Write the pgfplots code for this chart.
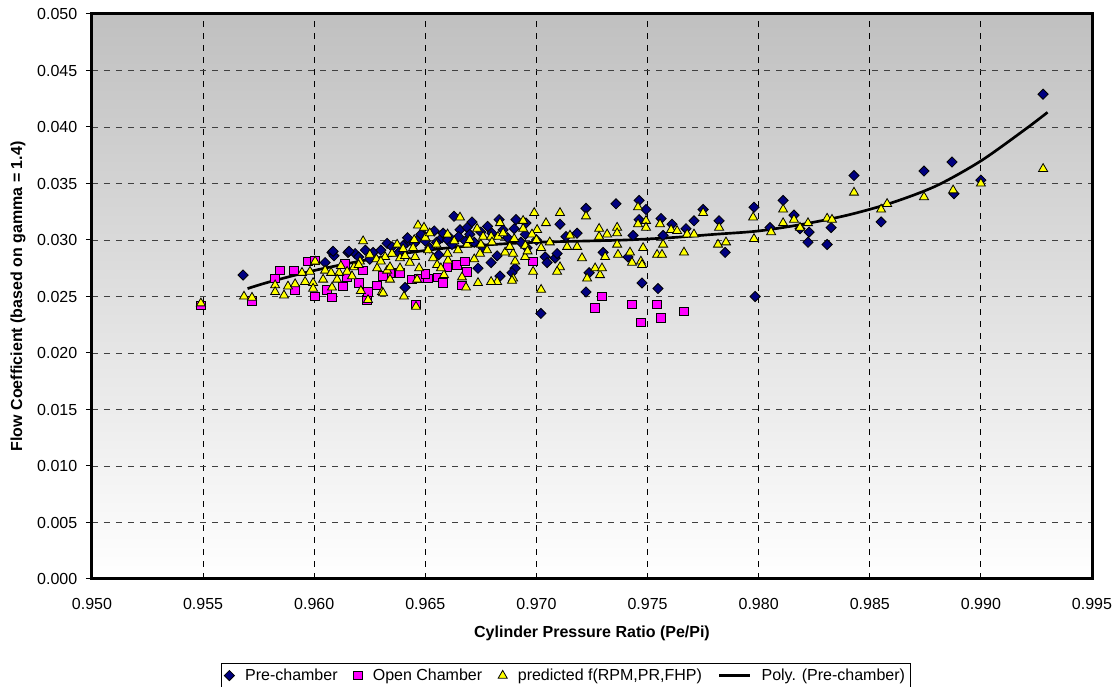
\documentclass[border=0pt]{standalone}
\usepackage{fontspec}
\setmainfont{Liberation Sans}
\usepackage{pgfplots}
\pgfplotsset{compat=1.18}

\definecolor{navy}{RGB}{0,0,128}
\definecolor{magen}{RGB}{255,0,255}
\definecolor{yell}{RGB}{255,255,0}
\definecolor{bgtop}{RGB}{192,192,192}

\begin{document}
\begin{tikzpicture}
\begin{axis}[
    name=ax,
    scale only axis,
    width=750pt, height=423.75pt,
    xmin=0.950, xmax=0.995, ymin=0, ymax=0.050,
    xtick={0.950,0.955,0.960,0.965,0.970,0.975,0.980,0.985,0.990,0.995},
    ytick={0,0.005,0.010,0.015,0.020,0.025,0.030,0.035,0.040,0.045,0.050},
    scaled ticks=false,
    /pgf/number format/assume math mode=true,
    xticklabel style={/pgf/number format/.cd,fixed,fixed zerofill,precision=3,/tikz/.cd,yshift=-11pt},
    yticklabel style={/pgf/number format/.cd,fixed,fixed zerofill,precision=3,/tikz/.cd,xshift=-3pt},
    tick label style={font=\fontsize{12}{14}\selectfont},
    xtick pos=left, ytick pos=left,
    xtick align=inside, ytick align=outside,
    major tick length=4.5pt,
    tick style={black, line width=0.75pt},
    axis line style={line width=2.25pt},
    grid=major,
    x grid style={black, line width=0.6pt, dash pattern=on 4.5pt off 4.5pt},
    y grid style={black!75, line width=0.6pt, dash pattern=on 4.5pt off 4.5pt},
    axis background/.style={top color=bgtop, bottom color=white},
    xlabel={Cylinder Pressure Ratio (Pe/Pi)},
    ylabel={Flow Coefficient (based on gamma = 1.4)},
    label style={font=\bfseries\fontsize{12}{14}\selectfont},
    xlabel style={at={(axis description cs:0.5,-0.097)}, anchor=center},
    ylabel style={at={(axis description cs:-0.074,0.5)}, anchor=center},
    legend style={at={(axis description cs:0.474,-0.149)}, anchor=north,
        draw=black, font=\fontsize{12}{14}\selectfont,
        column sep=6pt, inner sep=2pt,
        /tikz/every even column/.append style={column sep=10pt}},
    legend columns=4,
]

% Pre-chamber
\addplot[only marks, mark=square*, mark size=2.7pt,
    mark options={rotate=45, fill=navy, draw=black, line width=0.6pt}] coordinates {
(0.95680,0.0269) (0.96080,0.0289) (0.96089,0.0286) (0.96152,0.0289)
(0.96049,0.0280) (0.96184,0.0288) (0.96265,0.0289) (0.96328,0.0297)
(0.96085,0.0290) (0.96157,0.0290) (0.96409,0.0258) (0.96629,0.0321)
(0.96710,0.0316) (0.96656,0.0309) (0.96688,0.0311) (0.96832,0.0318)
(0.96908,0.0318) (0.96953,0.0315) (0.96494,0.0304) (0.96463,0.0300)
(0.96418,0.0298) (0.96575,0.0302) (0.96611,0.0302) (0.96823,0.0286)
(0.96737,0.0275) (0.96796,0.0280) (0.96836,0.0268) (0.96904,0.0275)
(0.96890,0.0271) (0.96958,0.0293) (0.97039,0.0285) (0.97048,0.0280)
(0.97084,0.0284) (0.97020,0.0235) (0.97106,0.0314) (0.97223,0.0328)
(0.97358,0.0332) (0.97462,0.0335) (0.97493,0.0327) (0.97462,0.0318)
(0.97561,0.0319) (0.97709,0.0317) (0.97750,0.0327) (0.97822,0.0317)
(0.97849,0.0289) (0.97475,0.0262) (0.97547,0.0257) (0.97223,0.0254)
(0.97435,0.0304) (0.97570,0.0304) (0.97610,0.0314) (0.97673,0.0310)
(0.97300,0.0289) (0.97183,0.0306) (0.97133,0.0303) (0.97093,0.0288)
(0.97412,0.0285) (0.97237,0.0271) (0.97979,0.0329) (0.97984,0.0250)
(0.98051,0.0311) (0.98110,0.0335) (0.98159,0.0322) (0.98186,0.0310)
(0.98222,0.0298) (0.98227,0.0307) (0.98308,0.0296) (0.98326,0.0311)
(0.98429,0.0357) (0.98551,0.0316) (0.98744,0.0361) (0.98870,0.0369)
(0.98879,0.0341) (0.99000,0.0353) (0.99280,0.0429)
(0.96200,0.0285) (0.96250,0.0283) (0.96300,0.0291) (0.96350,0.0294)
(0.96400,0.0295) (0.96450,0.0297) (0.96500,0.0299) (0.96550,0.0298)
(0.96600,0.0300) (0.96650,0.0303) (0.96700,0.0305) (0.96750,0.0307)
(0.96800,0.0306) (0.96850,0.0309) (0.96900,0.0310) (0.96950,0.0305)
(0.97000,0.0300) (0.96520,0.0293) (0.96380,0.0289) (0.96720,0.0298)
(0.96480,0.0305) (0.96540,0.0308) (0.96780,0.0312) (0.96620,0.0296)
(0.96230,0.0291) (0.96420,0.0302) (0.96580,0.0306) (0.96680,0.0299)
(0.96870,0.0302) (0.96930,0.0298) (0.96760,0.0293) (0.96560,0.0287)
};
\addlegendentry{Pre-chamber}

% Open Chamber
\addplot[only marks, mark=square*, mark size=3.2pt,
    mark options={fill=magen, draw=black, line width=0.6pt}] coordinates {
(0.95490,0.0242) (0.95720,0.0246) (0.95846,0.0273) (0.95824,0.0266)
(0.95909,0.0273) (0.95914,0.0256) (0.95972,0.0281) (0.96004,0.0282)
(0.96004,0.0250) (0.96058,0.0256) (0.96080,0.0249) (0.96130,0.0259)
(0.96139,0.0279) (0.96148,0.0267) (0.96220,0.0273) (0.96238,0.0247)
(0.96242,0.0254) (0.96283,0.0260) (0.96341,0.0271) (0.96386,0.0271)
(0.96440,0.0265) (0.96458,0.0243) (0.96472,0.0266) (0.96512,0.0266)
(0.96557,0.0267) (0.96580,0.0262) (0.96643,0.0278) (0.96665,0.0260)
(0.96679,0.0281) (0.96688,0.0272) (0.96985,0.0281) (0.97264,0.0240)
(0.97295,0.0250) (0.97430,0.0243) (0.97470,0.0227) (0.97543,0.0243)
(0.97561,0.0231) (0.97664,0.0237)
(0.96310,0.0268) (0.96200,0.0262) (0.96500,0.0270) (0.96600,0.0276)
};
\addlegendentry{Open Chamber}

% predicted
\addplot[only marks, mark=triangle*, mark size=3.9pt,
    mark options={fill=yell, draw=black, line width=0.6pt}] coordinates {
(0.95490,0.0244) (0.95684,0.0250) (0.95720,0.0249) (0.95824,0.0260)
(0.95824,0.0254) (0.95864,0.0251) (0.95882,0.0259) (0.95914,0.0261)
(0.95959,0.0263) (0.95945,0.0271) (0.95981,0.0272) (0.95995,0.0262)
(0.95995,0.0257) (0.96004,0.0281) (0.96049,0.0273) (0.96076,0.0271)
(0.96080,0.0258) (0.96112,0.0271) (0.96148,0.0272) (0.96179,0.0276)
(0.96206,0.0281) (0.96210,0.0255) (0.96242,0.0247) (0.96220,0.0299)
(0.96283,0.0275) (0.96305,0.0254) (0.96328,0.0273) (0.96341,0.0265)
(0.96170,0.0268) (0.96103,0.0265) (0.96040,0.0265) (0.96373,0.0296)
(0.96467,0.0313) (0.96494,0.0311) (0.96656,0.0320) (0.96733,0.0310)
(0.96836,0.0315) (0.96990,0.0324) (0.96940,0.0317) (0.96940,0.0310)
(0.97043,0.0315) (0.97003,0.0309) (0.97021,0.0293) (0.96760,0.0303)
(0.96796,0.0303) (0.96827,0.0303) (0.96445,0.0293) (0.96512,0.0291)
(0.96688,0.0296) (0.96647,0.0291) (0.96746,0.0288) (0.96778,0.0291)
(0.96895,0.0288) (0.96859,0.0289) (0.96904,0.0281) (0.96949,0.0285)
(0.96985,0.0272) (0.97021,0.0256) (0.96895,0.0266) (0.96890,0.0264)
(0.96823,0.0263) (0.96796,0.0263) (0.96737,0.0262) (0.96683,0.0258)
(0.96665,0.0267) (0.96584,0.0269) (0.96535,0.0284) (0.96553,0.0278)
(0.96602,0.0282) (0.96386,0.0284) (0.96409,0.0286) (0.96454,0.0285)
(0.96319,0.0285) (0.96341,0.0276) (0.96386,0.0275) (0.96472,0.0275)
(0.96463,0.0265) (0.96310,0.0253) (0.96404,0.0250) (0.96458,0.0241)
(0.97106,0.0324) (0.97223,0.0321) (0.97282,0.0310) (0.97282,0.0303)
(0.97318,0.0305) (0.97363,0.0311) (0.97363,0.0306) (0.97363,0.0296)
(0.97367,0.0287) (0.97457,0.0329) (0.97457,0.0314) (0.97493,0.0317)
(0.97493,0.0311) (0.97480,0.0293) (0.97421,0.0289) (0.97430,0.0280)
(0.97470,0.0281) (0.97475,0.0278) (0.97543,0.0287) (0.97565,0.0287)
(0.97556,0.0314) (0.97570,0.0296) (0.97606,0.0309) (0.97633,0.0308)
(0.97678,0.0305) (0.97709,0.0305) (0.97750,0.0324) (0.97664,0.0289)
(0.97822,0.0311) (0.97817,0.0296) (0.97853,0.0298) (0.97151,0.0304)
(0.97138,0.0294) (0.97183,0.0294) (0.97205,0.0284) (0.97228,0.0266)
(0.97264,0.0275) (0.97286,0.0269) (0.97295,0.0275) (0.97309,0.0285)
(0.97106,0.0276) (0.97093,0.0272) (0.97975,0.0320) (0.97979,0.0301)
(0.98056,0.0307) (0.98110,0.0327) (0.98110,0.0315) (0.98159,0.0318)
(0.98186,0.0311) (0.98222,0.0315) (0.98308,0.0319) (0.98330,0.0318)
(0.98429,0.0342) (0.98551,0.0327) (0.98578,0.0332) (0.98744,0.0338)
(0.98875,0.0344) (0.99000,0.0350) (0.99280,0.0363)
(0.96280,0.0283) (0.96400,0.0292) (0.96550,0.0296) (0.96600,0.0305)
(0.96630,0.0299) (0.96700,0.0300) (0.96750,0.0296) (0.96800,0.0298)
(0.96850,0.0306) (0.96900,0.0301) (0.96950,0.0295) (0.96980,0.0305)
(0.97000,0.0300) (0.96600,0.0288) (0.96500,0.0302) (0.96450,0.0300)
(0.96350,0.0288) (0.96300,0.0281) (0.96200,0.0278) (0.96120,0.0277)
(0.96250,0.0287) (0.96430,0.0280) (0.96570,0.0275) (0.96720,0.0283)
(0.96880,0.0294) (0.96960,0.0290) (0.97060,0.0298) (0.96520,0.0306)
};
\addlegendentry{predicted f(RPM,PR,FHP)}

% polynomial trend line of the pre-chamber series
\addplot[black, line width=2pt, smooth, no marks,
    legend image code/.code={\draw[black, line width=2pt] (0cm,0cm) -- (0.8cm,0cm);}] coordinates {
(0.957,0.0257) (0.958,0.0263) (0.960,0.0273) (0.962,0.0281)
(0.964,0.0288) (0.966,0.0293) (0.968,0.0296) (0.970,0.0298)
(0.972,0.0299) (0.974,0.0300) (0.976,0.0302) (0.978,0.0305)
(0.980,0.0308) (0.982,0.0314) (0.984,0.0322) (0.986,0.0333)
(0.988,0.0348) (0.990,0.0370) (0.992,0.0398) (0.993,0.0413)
};
\addlegendentry{Poly. (Pre-chamber)}
\end{axis}
\pgfresetboundingbox
\path ([shift={(-69pt,-81pt)}]ax.south west) rectangle ([shift={(18.75pt,10.5pt)}]ax.north east);
\end{tikzpicture}
\end{document}
